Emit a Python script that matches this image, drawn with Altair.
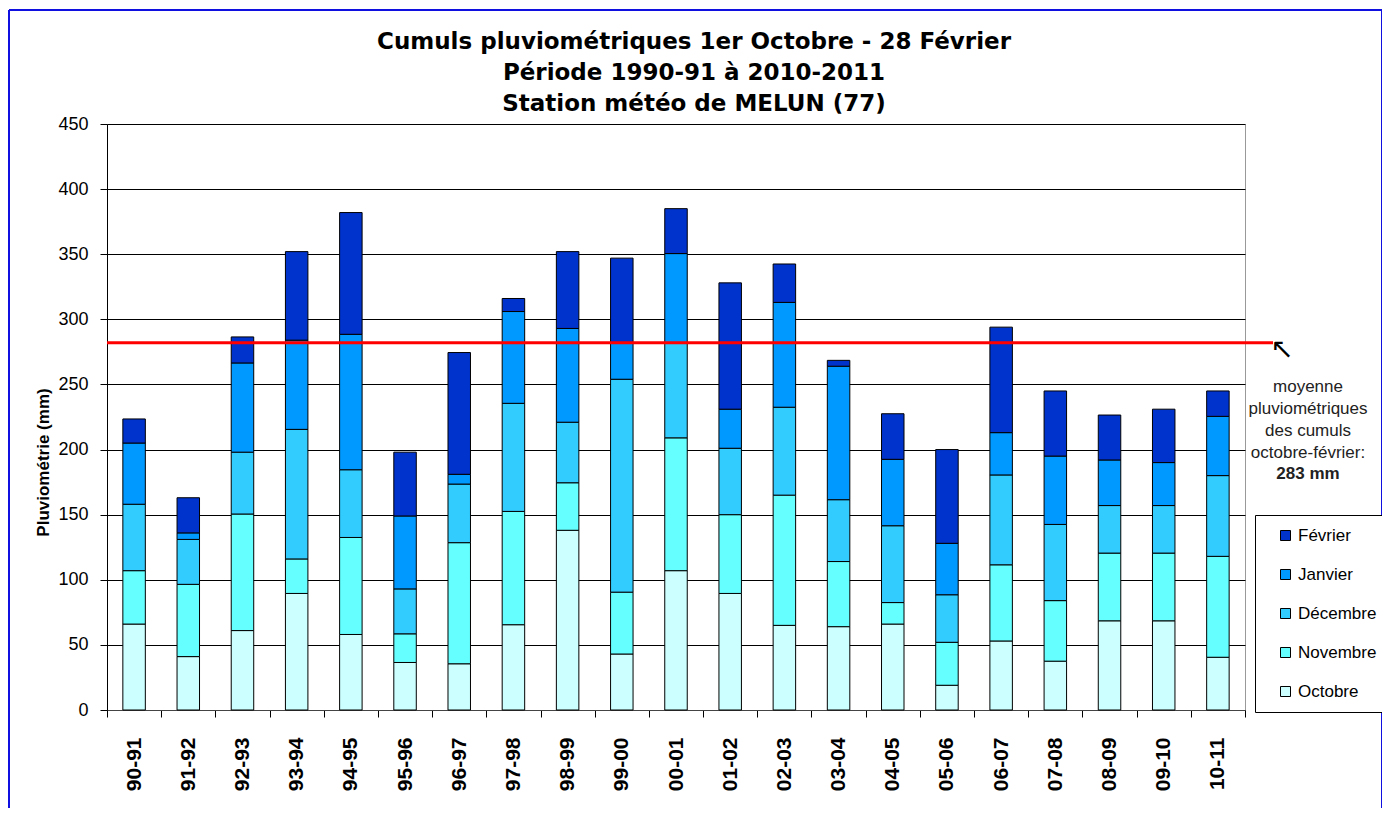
import altair as alt
import pandas as pd

# ---------------- data ----------------
seasons = ["90-91", "91-92", "92-93", "93-94", "94-95", "95-96", "96-97",
           "97-98", "98-99", "99-00", "00-01", "01-02", "02-03", "03-04",
           "04-05", "05-06", "06-07", "07-08", "08-09", "09-10", "10-11"]
octobre = [66, 41, 61, 89.5, 58, 36.5, 35.5, 65.5, 138, 43, 107, 89.5, 65,
           64, 66, 19, 53, 37.5, 68.5, 68.5, 40.5]
novembre = [41, 55.5, 89.5, 26.5, 74.5, 22, 93, 87, 36.5, 47.5, 102, 60.5,
            100, 50, 16.5, 33, 58.5, 46.5, 52, 52, 77.5]
decembre = [51, 34.5, 47.5, 99.5, 52, 34.5, 45, 83, 46.5, 163.5, 72.5, 51,
            67.5, 47.5, 59, 36.5, 69, 58.5, 36.5, 36.5, 62]
janvier = [47, 5, 68.5, 68.5, 104, 56, 7.5, 70.5, 72, 27.5, 69, 30, 80.5,
           102.5, 51, 39.5, 32.5, 52.5, 35, 33, 45.5]
fevrier = [18.5, 27, 20, 68, 93.5, 49, 93.5, 10, 59, 65.5, 34.5, 97, 29.5,
           4.5, 35, 72, 81, 50, 34.5, 41, 19.5]

months = ["Octobre", "Novembre", "Décembre", "Janvier", "Février"]
month_colors = ["#CCFFFF", "#66FFFF", "#33CCFF", "#0099FF", "#0033CC"]
mean_value = 282
y_ticks = [0, 50, 100, 150, 200, 250, 300, 350, 400, 450]

title_lines = ["Cumuls pluviométriques 1er Octobre - 28 Février",
               "Période 1990-91 à 2010-2011",
               "Station météo de MELUN (77)"]
note_lines = ["moyenne", "pluviométriques", "des cumuls", "octobre-février:"]
note_bold = "283 mm"

# ---------------- tables ----------------
series = [octobre, novembre, decembre, janvier, fevrier]
rows = []
for k, (m, vals) in enumerate(zip(months, series)):
    for s, v in zip(seasons, vals):
        rows.append({"season": s, "month": m, "value": v, "ord": k})
df = pd.DataFrame(rows)
mean_df = pd.DataFrame({"v": [mean_value]})
one = pd.DataFrame({"a": [0]})

W, H = 1138, 586
PAD_L, PAD_T = 99, 116

bars = alt.Chart(df).mark_bar(
    stroke="black", strokeWidth=1, width=alt.RelativeBandSize(0.415)
).encode(
    x=alt.X("season:N", sort=seasons,
            scale=alt.Scale(paddingInner=0, paddingOuter=0),
            axis=alt.Axis(title=None, labelAngle=-90, labelFont="Liberation Sans",
                          labelFontSize=21, labelFontWeight="bold", labelColor="black",
                          tickBand="extent", tickSize=7, tickColor="black",
                          domainColor="#444", labelPadding=20, grid=False)),
    y=alt.Y("value:Q", stack="zero",
            scale=alt.Scale(domain=[0, 450], nice=False),
            axis=alt.Axis(values=y_ticks, title="Pluviométrie (mm)",
                          titleFont="Liberation Sans", titleFontSize=17,
                          titleFontWeight="bold", titleColor="black",
                          titleX=-64, titleY=338, titleAngle=-90,
                          titleAlign="center", titleBaseline="middle",
                          labelFont="Liberation Sans", labelFontSize=18,
                          labelColor="black", tickSize=7, tickColor="black",
                          labelPadding=12, domainColor="black",
                          gridColor="black", gridOpacity=1, gridWidth=1)),
    color=alt.Color("month:N",
                    scale=alt.Scale(domain=months[::-1], range=month_colors[::-1]),
                    legend=alt.Legend(orient="none", legendX=1148, legendY=391,
                                      title=None, symbolType="square",
                                      symbolSize=100, symbolStrokeColor="black",
                                      symbolStrokeWidth=1, symbolOpacity=1,
                                      labelFont="Liberation Sans", labelFontSize=17,
                                      labelColor="black", strokeColor="black",
                                      fillColor="white", padding=12,
                                      rowPadding=21, symbolOffset=10,
                                      labelOffset=4)),
    order=alt.Order("ord:Q", sort="ascending"),
)

mean_rule = alt.Chart(mean_df).mark_rule(color="#FF0000", strokeWidth=3).encode(
    y=alt.Y("v:Q"), x=alt.value(0), x2=alt.value(1166)
)

BORDER = "#1010E0"
frame_left = alt.Chart(one).mark_rule(color=BORDER, strokeWidth=2).encode(
    x=alt.value(-98), y=alt.value(-114), y2=alt.value(760)
)
frame_right = alt.Chart(one).mark_rule(color=BORDER, strokeWidth=2).encode(
    x=alt.value(1275), y=alt.value(-114), y2=alt.value(760)
)
frame_top = alt.Chart(one).mark_rule(color=BORDER, strokeWidth=2).encode(
    x=alt.value(-98), x2=alt.value(1275), y=alt.value(-114)
)

title = alt.Chart(one).mark_text(
    font="DejaVu Sans", fontSize=23, fontWeight="bold", color="black",
    align="center", baseline="middle", lineHeight=31
).encode(x=alt.value(587), y=alt.value(-82), text=alt.value(title_lines))

note = alt.Chart(one).mark_text(
    font="Liberation Sans", fontSize=17, color="#222222",
    align="center", baseline="middle", lineHeight=22
).encode(x=alt.value(1201), y=alt.value(263), text=alt.value(note_lines))

note_b = alt.Chart(one).mark_text(
    font="Liberation Sans", fontSize=17, fontWeight="bold", color="#222222",
    align="center", baseline="middle"
).encode(x=alt.value(1201), y=alt.value(350), text=alt.value(note_bold))

arrow = alt.Chart(one).mark_text(
    font="DejaVu Sans", fontSize=28, color="black", align="center", baseline="middle"
).encode(x=alt.value(1175), y=alt.value(226), text=alt.value("↖"))

chart = alt.layer(frame_left, frame_right, frame_top, bars, mean_rule,
                  title, note, note_b, arrow).properties(
    width=W, height=H,
    padding={"left": PAD_L, "top": PAD_T, "right": 137, "bottom": 98},
    autosize=alt.AutoSizeParams(type="none"),
    background="white",
).configure_view(stroke="#999999", strokeWidth=1)

chart.save("out.html", embed_options={"renderer": "svg", "actions": False})
